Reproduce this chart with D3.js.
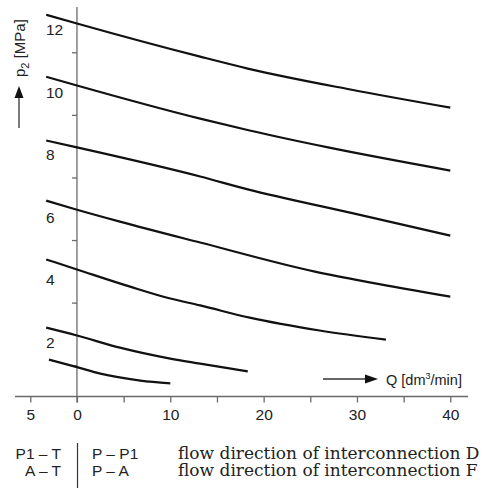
<!DOCTYPE html>
<html><head><meta charset="utf-8">
<script src="https://cdn.jsdelivr.net/npm/d3@7"></script>
<style>
html,body{margin:0;padding:0;background:#fff;}
svg{display:block;}
</style></head>
<body>
<script>
// ---- data ----
const xTickValues = [-5, 0, 5, 10, 15, 20, 25, 30, 35, 40];
const xTickLabels = {"-5": "5", "0": "0", "10": "10", "20": "20", "30": "30", "40": "40"};
const yTickValues = [1, 3, 5, 7, 9, 11];
const yLabelValues = [2, 4, 6, 8, 10, 12];
const curve12 = [[-3.3,12.20],[0,11.92],[13.2,10.86],[18.3,10.48],[29.3,9.81],[40,9.23]];
const curve10 = [[-3.3,10.22],[0,9.94],[13.2,8.88],[18.5,8.50],[26.9,7.96],[40,7.22]];
const curve8  = [[-3.3,8.18],[0,7.96],[13.2,7.03],[18.3,6.62],[29.5,5.86],[40,5.14]];
const curve6  = [[-3.3,6.26],[0,5.97],[4.6,5.59],[13.2,4.92],[25.5,3.99],[31.5,3.64],[40,3.19]];
const curve4  = [[-3.3,4.38],[0,4.06],[5.7,3.51],[10,3.13],[13.2,2.91],[18.5,2.52],[26,2.11],[33.1,1.82]];
const curve2  = [[-3.3,2.20],[0,1.95],[4.6,1.56],[10,1.21],[13.2,1.05],[18.3,0.80]];
const curve1  = [[-3.0,1.18],[0,0.94],[2.5,0.73],[6.8,0.51],[10,0.42]];
const curves = [curve12, curve10, curve8, curve6, curve4, curve2, curve1];
const legendLeft = ["P1 \u2013 T", "A \u2013 T"];
const legendMid = ["P \u2013 P1", "P \u2013 A"];
const legendText = ["flow direction of interconnection D", "flow direction of interconnection F"];

// ---- chart ----
const W = 483, H = 502;
const svg = d3.select("body").append("svg").attr("width", W).attr("height", H);
const x = d3.scaleLinear().domain([-5, 40]).range([30.3, 450.3]);
const y = d3.scaleLinear().domain([0, 12]).range([396.5, 21]);
const axisColor = "#6a6a6a";
const sans = "'Liberation Sans Narrow', 'Liberation Sans', Arial, sans-serif";

// axis lines
svg.append("line").attr("x1", 15).attr("x2", 468).attr("y1", y(0)).attr("y2", y(0))
  .attr("stroke", axisColor).attr("stroke-width", 1.3);
svg.append("line").attr("x1", x(0)).attr("x2", x(0)).attr("y1", 7).attr("y2", y(0) + 6)
  .attr("stroke", axisColor).attr("stroke-width", 1.3);

// x axis
const xAxis = svg.append("g").attr("transform", `translate(0,${y(0)})`)
  .call(d3.axisBottom(x).tickValues(xTickValues).tickSize(6).tickPadding(6)
    .tickFormat(d => xTickLabels[String(d)] || ""));
xAxis.select(".domain").remove();
xAxis.selectAll("line").attr("stroke", axisColor).attr("stroke-width", 1.3);
xAxis.selectAll("text").attr("fill", "#222").attr("font-size", 15.5).attr("font-family", sans);

// y axis ticks
const yAxis = svg.append("g").attr("transform", `translate(${x(0)},0)`)
  .call(d3.axisLeft(y).tickValues(yTickValues).tickSize(5).tickFormat(""));
yAxis.select(".domain").remove();
yAxis.selectAll("line").attr("stroke", axisColor).attr("stroke-width", 1.3);

// y labels (left aligned)
svg.append("g").selectAll("text").data(yLabelValues).join("text")
  .attr("x", 46).attr("y", d => y(d) + 14)
  .attr("font-size", 15.5).attr("font-family", sans).attr("fill", "#222")
  .text(d => d);

// curves
const line = d3.line().x(d => x(d[0])).y(d => y(d[1])).curve(d3.curveMonotoneX);
svg.append("g").selectAll("path").data(curves).join("path")
  .attr("d", line).attr("fill", "none").attr("stroke", "#111")
  .attr("stroke-width", 2.2).attr("stroke-linejoin", "round");

// y axis title with arrow
const yt = svg.append("text").attr("transform", "translate(25,77) rotate(-90)")
  .attr("font-size", 15).attr("font-family", sans).attr("fill", "#222");
yt.append("tspan").text("p");
yt.append("tspan").attr("font-size", 11).attr("dy", 4).text("2");
yt.append("tspan").attr("dy", -4).text(" [MPa]");
svg.append("line").attr("x1", 19).attr("x2", 19).attr("y1", 128).attr("y2", 95)
  .attr("stroke", "#333").attr("stroke-width", 1.3);
svg.append("path").attr("d", "M19,86 L23.5,98 L14.5,98 Z").attr("fill", "#111");

// x axis title with arrow
svg.append("line").attr("x1", 323).attr("x2", 368).attr("y1", 379).attr("y2", 379)
  .attr("stroke", "#333").attr("stroke-width", 1.3);
svg.append("path").attr("d", "M378,379 L365,374.5 L365,383.5 Z").attr("fill", "#111");
const xt = svg.append("text").attr("x", 386).attr("y", 385)
  .attr("font-size", 14.5).attr("font-family", sans).attr("fill", "#222");
xt.append("tspan").text("Q [dm");
xt.append("tspan").attr("font-size", 9).attr("dy", -6).text("3");
xt.append("tspan").attr("dy", 6).text("/min]");

// legend
const lg = svg.append("g");
lg.selectAll(".l").data(legendLeft).join("text").attr("class", "l")
  .attr("x", 61).attr("y", (d, i) => 459 + i * 17).attr("text-anchor", "end")
  .attr("font-size", 15.5).attr("font-family", sans).attr("fill", "#222").text(d => d);
lg.selectAll(".m").data(legendMid).join("text").attr("class", "m")
  .attr("x", 92).attr("y", (d, i) => 459 + i * 17)
  .attr("font-size", 15.5).attr("font-family", sans).attr("fill", "#222").text(d => d);
lg.selectAll(".t").data(legendText).join("text").attr("class", "t")
  .attr("x", 178).attr("y", (d, i) => 459 + i * 17)
  .attr("font-size", 17).attr("font-family", "'DejaVu Serif', serif").attr("fill", "#222").text(d => d);
svg.append("line").attr("x1", 77.5).attr("x2", 77.5).attr("y1", 443).attr("y2", 488)
  .attr("stroke", "#333").attr("stroke-width", 1.2);
</script>
</body></html>
